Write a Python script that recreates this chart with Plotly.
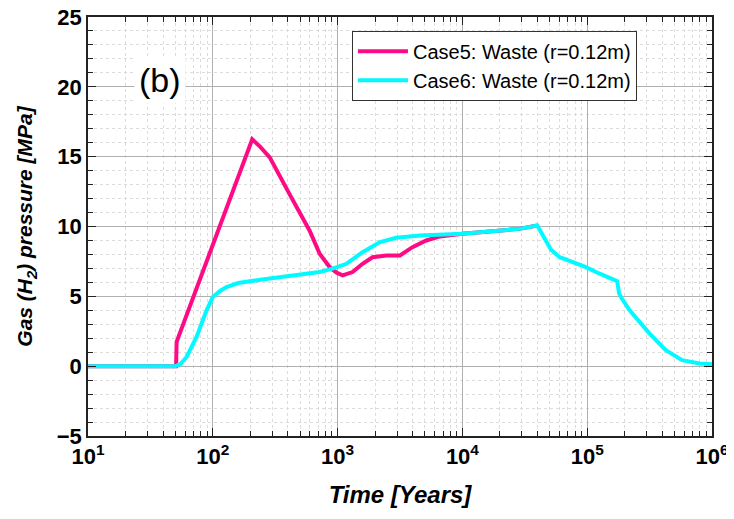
import plotly.graph_objects as go

# Case5: Waste (r=0.12m)
case5_t = [10, 30, 50.8, 51.3, 207, 240, 286, 413, 597, 718, 863, 977, 1096, 1318, 1585,
           1905, 2455, 3162, 3981, 5129, 6607, 10000, 13800, 19950, 28580, 39810]
case5_p = [0, 0, 0, 1.74, 16.25, 15.7, 14.95, 12.3, 9.7, 8.05, 7.1, 6.7, 6.5, 6.74, 7.33,
           7.8, 7.93, 7.93, 8.52, 9.0, 9.29, 9.48, 9.6, 9.76, 9.83, 10.07]

# Case6: Waste (r=0.12m)
case6_t = [10, 30, 50, 55, 61.7, 74.1, 89.1, 100, 115, 128.8, 160, 240, 363, 525, 718, 912,
           1175, 1585, 2188, 2951, 4571, 10000, 13800, 19950, 28580, 39810, 45290, 51290,
           60260, 97720, 125900, 173800, 180300, 186200, 218800, 316200, 426600, 575400,
           794300, 1000000]
case6_p = [0, 0, 0, 0.15, 0.66, 2.1, 4.0, 4.95, 5.4, 5.66, 5.95, 6.19, 6.4, 6.6, 6.74, 6.98,
           7.33, 8.16, 8.88, 9.19, 9.36, 9.48, 9.6, 9.76, 9.83, 10.07, 9.24, 8.33,
           7.8, 7.09, 6.62, 6.09, 5.19, 4.95, 4.0, 2.33, 1.14, 0.43,
           0.19, 0.14]

xticks = [10, 100, 1000, 10000, 100000, 1000000]
xticklabels = ['10<sup>1</sup>', '10<sup>2</sup>', '10<sup>3</sup>',
               '10<sup>4</sup>', '10<sup>5</sup>', '10<sup>6</sup>']

FONT = 'Liberation Sans, Arial, sans-serif'

fig = go.Figure()
fig.add_trace(go.Scatter(x=case5_t, y=case5_p, mode='lines', name='Case5: Waste (r=0.12m)',
                         line=dict(color='#FF0A85', width=4)))
fig.add_trace(go.Scatter(x=case6_t, y=case6_p, mode='lines', name='Case6: Waste (r=0.12m)',
                         line=dict(color='#00FAFF', width=4)))

axis_common = dict(showline=True, linecolor='#222', linewidth=1.5, mirror='ticks',
                   ticks='inside', ticklen=8, tickcolor='#222', automargin=False,
                   ticklabeloverflow='allow',
                   showgrid=True, gridcolor='#b0b0b0', gridwidth=1, zeroline=False,
                   tickfont=dict(family=FONT, size=22, color='black', weight='bold'))

fig.update_xaxes(type='log', range=[1, 6], tickvals=xticks, ticktext=xticklabels,
                 title=dict(text='<b><i>Time [Years]</i></b>',
                            font=dict(family=FONT, size=24, color='black'), standoff=18),
                 minor=dict(dtick='D1', ticks='inside', ticklen=5, tickcolor='#222',
                            showgrid=True, gridcolor='#dcdcdc', griddash='dot'),
                 **axis_common)
fig.update_yaxes(range=[-5, 25], dtick=5,
                 title=dict(text='<b><i>Gas (H<sub>2</sub>) pressure [MPa]</i></b>',
                            font=dict(family=FONT, size=21, color='black'), standoff=18),
                 minor=dict(dtick=1, ticks='inside', ticklen=5, tickcolor='#222',
                            showgrid=True, gridcolor='#dcdcdc', griddash='dot'),
                 **axis_common)

fig.add_annotation(x=0.115, y=0.85, xref='paper', yref='paper', text='(b)',
                   xanchor='center', yanchor='middle',
                   showarrow=False, font=dict(family=FONT, size=34, color='black'),
                   bgcolor='white', borderpad=4)

# page has an 8px body margin, so the figure is shifted and shrunk to match
fig.update_layout(
    width=726, height=503,
    margin=dict(l=80, r=22, t=9, b=75),
    plot_bgcolor='white', paper_bgcolor='white',
    showlegend=True,
    legend=dict(x=0.423, y=0.967, xanchor='left', yanchor='top',
                bgcolor='white', bordercolor='#333', borderwidth=1,
                font=dict(family=FONT, size=20, color='black'),
                tracegroupgap=0, itemwidth=50),
)

fig.write_html("out.html")
